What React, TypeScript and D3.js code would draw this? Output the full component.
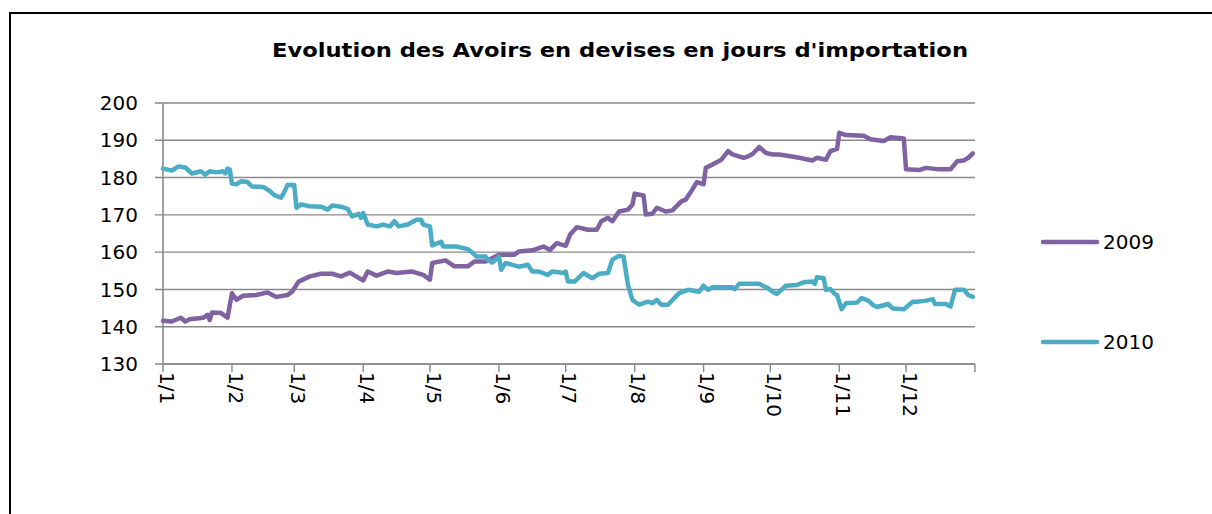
import React from "react";
import * as d3 from "d3";

// day of year (0 = 1 Jan) and value
const days2009 = [0, 4, 8, 10, 12, 18, 20, 21, 22, 26, 29, 31, 33, 36, 42, 47, 51, 56, 58, 61, 66, 71, 76, 80, 84, 90, 92, 96, 101, 105, 112, 117, 120, 121, 127, 131, 137, 140, 145, 151, 158, 160, 166, 171, 174, 177, 181, 183, 186, 191, 195, 197, 200, 202, 205, 209, 211, 212, 216, 217, 220, 222, 226, 229, 233, 235, 237, 240, 243, 244, 247, 251, 254, 256, 261, 263, 265, 268, 271, 274, 277, 282, 286, 292, 294, 298, 300, 303, 304, 307, 315, 318, 324, 327, 333, 334, 340, 343, 349, 354, 357, 360, 362, 364];
const values2009 = [141.6, 141.4, 142.4, 141.4, 142, 142.4, 143.2, 141.8, 143.8, 143.7, 142.4, 149, 147.2, 148.3, 148.5, 149.2, 148, 148.5, 149.4, 152.1, 153.5, 154.2, 154.2, 153.5, 154.5, 152.4, 154.8, 153.7, 154.8, 154.4, 154.8, 153.9, 152.6, 157.1, 157.8, 156.2, 156.2, 157.5, 157.5, 159.3, 159.3, 160.2, 160.5, 161.5, 160.6, 162.4, 161.7, 164.7, 166.7, 166, 166, 168.3, 169.2, 168.3, 170.9, 171.4, 172.7, 175.7, 175.2, 170.1, 170.3, 171.9, 170.9, 171.2, 173.6, 174.1, 175.9, 178.8, 178.2, 182.6, 183.5, 184.8, 187.1, 186.2, 185.3, 185.7, 186.3, 188.2, 186.6, 186.2, 186.2, 185.7, 185.3, 184.6, 185.3, 184.8, 187.1, 187.7, 192, 191.4, 191.2, 190.3, 189.8, 190.8, 190.5, 182.2, 182, 182.6, 182.2, 182.2, 184.4, 184.6, 185.3, 186.5];

const days2010 = [0, 4, 7, 10, 13, 17, 19, 21, 24, 27, 28, 29, 30, 31, 33, 35, 38, 40, 45, 48, 50, 53, 54, 56, 59, 60, 62, 66, 71, 74, 76, 80, 83, 85, 88, 89, 90, 92, 96, 99, 102, 104, 106, 110, 114, 116, 117, 120, 121, 125, 126, 132, 137, 139, 141, 145, 146, 148, 151, 152, 154, 157, 160, 164, 166, 169, 173, 175, 180, 181, 182, 185, 189, 193, 196, 200, 202, 205, 207, 209, 211, 214, 218, 220, 222, 224, 227, 232, 236, 241, 243, 245, 247, 256, 257, 259, 268, 272, 274, 276, 280, 285, 288, 292, 293, 294, 297, 298, 300, 302, 303, 305, 307, 312, 314, 317, 319, 321, 326, 328, 333, 337, 339, 343, 346, 347, 352, 354, 356, 360, 362, 364];
const values2010 = [182.4, 181.9, 183, 182.7, 181.1, 181.7, 180.8, 181.7, 181.4, 181.7, 181.1, 182.4, 182.2, 178.4, 178.2, 179, 178.8, 177.6, 177.5, 176.4, 175.3, 174.6, 175.5, 178, 178, 171.9, 172.8, 172.3, 172.2, 171.4, 172.5, 172.2, 171.6, 169.6, 170.3, 169.2, 170.5, 167.4, 166.9, 167.4, 166.9, 168.3, 166.9, 167.4, 168.7, 168.7, 167.4, 166.9, 161.8, 162.8, 161.5, 161.5, 160.8, 159.9, 158.8, 158.8, 158, 157.2, 158.8, 155.3, 157.1, 156.6, 156.1, 156.6, 154.8, 154.8, 153.9, 154.8, 154.4, 154.8, 152.1, 152.1, 154.4, 153, 154.2, 154.4, 158, 159, 158.8, 151.2, 147.2, 145.9, 146.7, 146.3, 147.2, 145.9, 145.9, 149, 149.9, 149.4, 151, 149.9, 150.6, 150.6, 150.1, 151.5, 151.5, 150.3, 149.4, 148.8, 151, 151.2, 151.9, 152.1, 151.5, 153.3, 153, 149.9, 150.1, 148.8, 148.5, 144.7, 146.3, 146.5, 147.7, 147, 145.9, 145.3, 146.1, 144.9, 144.7, 146.7, 146.7, 147, 147.4, 146.1, 146.1, 145.4, 149.9, 149.9, 148.5, 148];

const monthStarts = [0, 31, 59, 90, 120, 151, 181, 212, 243, 273, 304, 334];
const monthLabels = ["1/1", "1/2", "1/3", "1/4", "1/5", "1/6", "1/7", "1/8", "1/9", "1/10", "1/11", "1/12"];
const yTicks = [130, 140, 150, 160, 170, 180, 190, 200];

const seriesNames = ["2009", "2010"];
const seriesColors = ["#7F62A1", "#4BACC6"];

export default function App() {
  const W = 1212, H = 514;
  const left = 163, right = 975, top = 103, bottom = 364;

  const x = d3.scaleLinear().domain([0, 365]).range([left, right]);
  const y = d3.scaleLinear().domain([130, 200]).range([bottom, top]);

  const line = d3.line<[number, number]>()
    .x(d => x(d[0]))
    .y(d => y(d[1]));

  const series = [
    d3.zip(days2009, values2009) as [number, number][],
    d3.zip(days2010, values2010) as [number, number][],
  ];

  const font = "'DejaVu Sans', sans-serif";
  const gray = "#898989";

  return (
    <svg width={W} height={H} style={{ position: "fixed", left: 0, top: 0, background: "#fff" }}>
      <rect x={10} y={13} width={1230} height={530} fill="#fff" stroke="#000" strokeWidth={2} />
      <text x={620} y={57} textAnchor="middle" fontFamily={font}
        fontWeight="bold" fontSize={20} textLength={696} lengthAdjust="spacingAndGlyphs">
        Evolution des Avoirs en devises en jours d'importation
      </text>

      {yTicks.map(t => (
        <g key={t}>
          <line x1={left - 8} x2={right} y1={y(t)} y2={y(t)} stroke={gray} strokeWidth={1.4} />
          <text x={138} y={y(t)} dy="0.36em" textAnchor="end" fontFamily={font} fontSize={20}>{t}</text>
        </g>
      ))}
      <line x1={left} x2={left} y1={top} y2={bottom} stroke={gray} strokeWidth={1.6} />
      <line x1={left} x2={right} y1={bottom} y2={bottom} stroke={gray} strokeWidth={1.6} />
      {[...monthStarts, 365].map((d, i) => (
        <line key={i} x1={x(d)} x2={x(d)} y1={bottom} y2={bottom + 8} stroke={gray} strokeWidth={1.4} />
      ))}
      {monthStarts.map((d, i) => (
        <text key={i} transform={`translate(${x(d) + 4},${bottom + 8}) rotate(90)`} dy="0.36em"
          fontFamily={font} fontSize={20}>{monthLabels[i]}</text>
      ))}

      {series.map((s, i) => (
        <path key={i} d={line(s) || ""} fill="none" stroke={seriesColors[i]} strokeWidth={4.5}
          strokeLinejoin="round" strokeLinecap="round" />
      ))}

      {seriesNames.map((n, i) => (
        <g key={n} transform={`translate(1043,${242 + i * 100})`}>
          <line x1={0} x2={54} y1={0} y2={0} stroke={seriesColors[i]} strokeWidth={4.5} strokeLinecap="round" />
          <text x={60} y={0} dy="0.36em" fontFamily={font} fontSize={20}>{n}</text>
        </g>
      ))}
    </svg>
  );
}
